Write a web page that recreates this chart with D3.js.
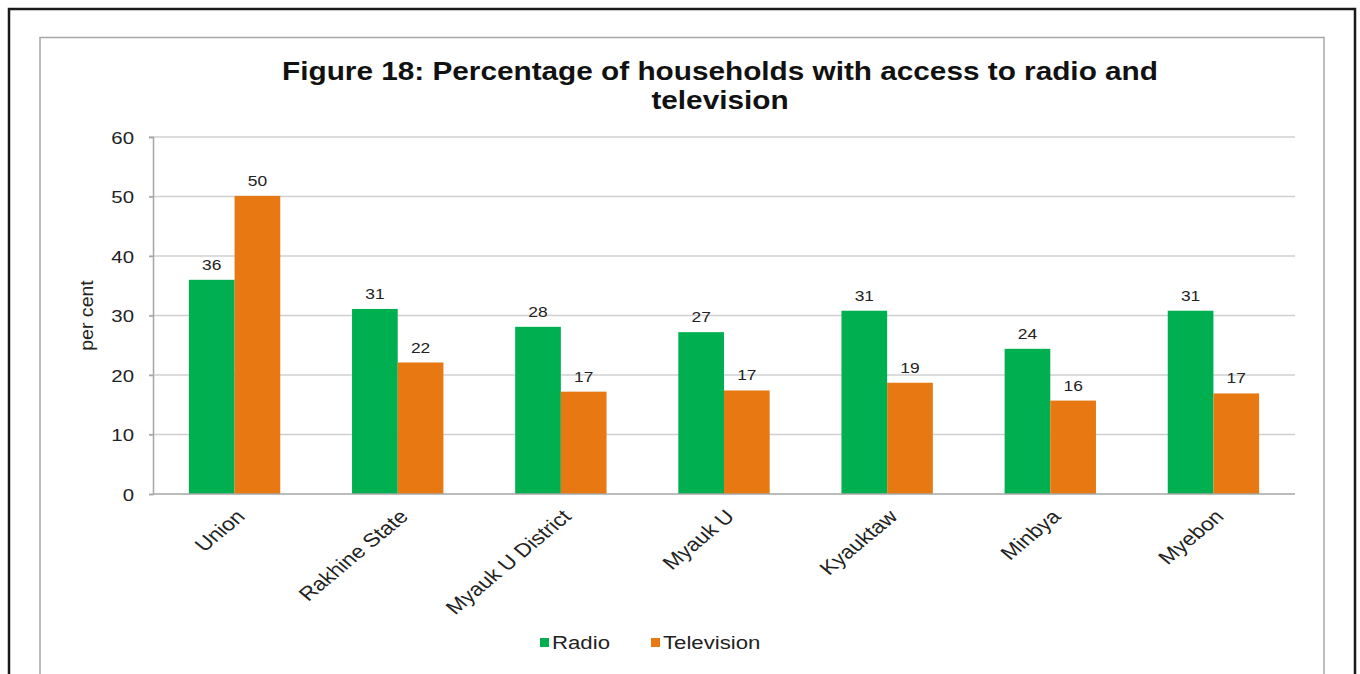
<!DOCTYPE html>
<html><head><meta charset="utf-8">
<script src="https://cdn.jsdelivr.net/npm/d3@7"></script>
<style>body{margin:0;background:#fff;} text{font-family:"Liberation Sans",Arial,sans-serif;}</style>
</head><body><svg id="c" width="1360" height="674"></svg>
<script>
const categories = ["Union","Rakhine State","Myauk U District","Myauk U","Kyauktaw","Minbya","Myebon"];
const radio = [36.0, 31.1, 28.1, 27.2, 30.8, 24.4, 30.8];
const television = [50.1, 22.1, 17.2, 17.4, 18.7, 15.7, 16.9];
const seriesNames = ["Radio","Television"];
const colors = ["#00b050","#e87811"];
const yTicks = [0,10,20,30,40,50,60];

const SX = 1.2; // horizontal stretch seen in the reference text
const svg = d3.select("#c");
svg.append("rect").attr("x",9).attr("y",9).attr("width",1346).attr("height",700).attr("fill","none").attr("stroke","#1a1a1a").attr("stroke-width",2.5);
svg.append("rect").attr("x",40).attr("y",37.5).attr("width",1284).attr("height",700).attr("fill","#fff").attr("stroke","#a6a6a6").attr("stroke-width",1.5);

const m = {l:153, r:1295, t:137, b:494};
const x0 = d3.scaleBand().domain(categories).range([m.l,m.r]).paddingInner(0.44).paddingOuter(0.22);
const x1 = d3.scaleBand().domain(seriesNames).range([0,x0.bandwidth()]);
const y = d3.scaleLinear().domain([0,60]).range([m.b,m.t]);

svg.append("g").selectAll("line").data(yTicks.filter(d=>d>0)).join("line")
  .attr("x1",m.l-4).attr("x2",m.r).attr("y1",d=>y(d)).attr("y2",d=>y(d))
  .attr("stroke","#d0d0d0").attr("stroke-width",1.5);

const yAxis = d3.axisLeft(y).tickValues(yTicks).tickSize(4).tickPadding(0);
const ya = svg.append("g").attr("transform",`translate(${m.l},0)`).call(yAxis);
ya.select(".domain").attr("stroke","#a6a6a6").attr("stroke-width",1.5);
ya.selectAll(".tick line").attr("stroke","#a6a6a6").attr("stroke-width",1.5);
ya.selectAll("text").attr("x",0).attr("dy","0.36em").attr("transform",`translate(-19,0) scale(${SX},1)`)
  .attr("font-size",17).attr("fill","#222").attr("font-family","Liberation Sans, Arial, sans-serif");

const data = categories.map((c,i)=>({c, vals:[{s:"Radio",v:radio[i]},{s:"Television",v:television[i]}]}));
const grp = svg.append("g").selectAll("g").data(data).join("g").attr("transform",d=>`translate(${x0(d.c)},0)`);
grp.selectAll("rect").data(d=>d.vals).join("rect")
  .attr("x",d=>x1(d.s)).attr("width",x1.bandwidth()).attr("y",d=>y(d.v)).attr("height",d=>y(0)-y(d.v))
  .attr("fill",(d,i)=>colors[i]);
grp.selectAll("text").data(d=>d.vals).join("text")
  .attr("transform",d=>`translate(${x1(d.s)+x1.bandwidth()/2},${y(d.v)-10}) scale(${SX},1)`)
  .attr("text-anchor","middle").attr("font-size",14.5).attr("fill","#222")
  .text(d=>Math.round(d.v));

svg.append("line").attr("x1",m.l).attr("x2",m.r).attr("y1",m.b).attr("y2",m.b).attr("stroke","#a6a6a6").attr("stroke-width",1.5);

svg.append("g").selectAll("text").data(categories).join("text")
  .attr("transform",d=>`translate(${x0(d)+x0.bandwidth()/2+6},${m.b+19}) scale(${SX},1) rotate(-45)`)
  .attr("text-anchor","end").attr("dy","0.35em").attr("font-size",19).attr("fill","#222").text(d=>d);

svg.append("text").attr("transform",`translate(93,${(m.t+m.b)/2}) rotate(-90) scale(1.15,1.1)`).attr("text-anchor","middle")
  .attr("font-size",17).attr("fill","#222").text("per cent");

svg.append("text").attr("text-anchor","middle").attr("font-weight","bold").attr("font-size",25).attr("fill","#111")
  .attr("transform",`translate(720,80) scale(1.19,1)`).text("Figure 18: Percentage of households with access to radio and");
svg.append("text").attr("text-anchor","middle").attr("font-weight","bold").attr("font-size",25).attr("fill","#111")
  .attr("transform",`translate(720,109) scale(1.19,1)`).text("television");

const leg = svg.append("g").selectAll("g").data(seriesNames).join("g").attr("transform",(d,i)=>`translate(${[540,651][i]},0)`);
leg.append("rect").attr("x",0).attr("y",638).attr("width",9).attr("height",9).attr("fill",(d,i)=>colors[i]);
leg.append("text").attr("transform",`translate(12,649) scale(${SX},1)`).attr("font-size",18.5).attr("fill","#222").text(d=>d);
</script></body></html>
